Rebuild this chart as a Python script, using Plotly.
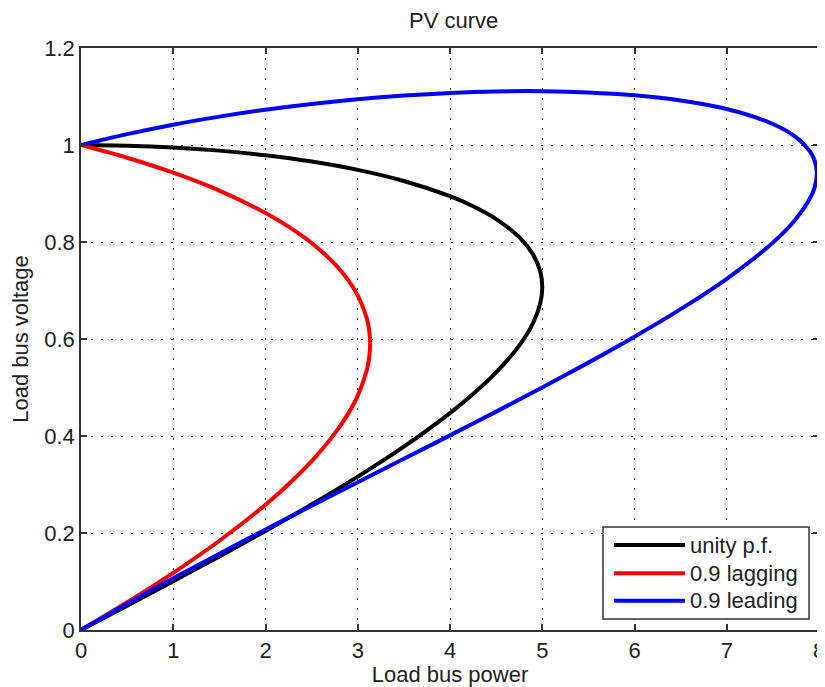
import plotly.graph_objects as go

# Data (load bus power P, load bus voltage V)
unity_p = [0, 0.5, 1, 1.5, 2, 2.5, 3, 3.5, 4, 4.25, 4.5, 4.75, 4.9, 4.98, 5.0,
           4.98, 4.9, 4.75, 4.5, 4.25, 4, 3.5, 3, 2.5, 2, 1.5, 1, 0.5, 0]
unity_v = [0, 0.0501, 0.1005, 0.1518, 0.2043, 0.2588, 0.3162, 0.3781, 0.4472, 0.4864,
           0.5311, 0.5864, 0.6329, 0.6748, 0.7071, 0.7380, 0.7743, 0.8100, 0.8473,
           0.8737, 0.8944, 0.9258, 0.9487, 0.9659, 0.9789, 0.9884, 0.9949, 0.9987, 1.0]

lag_p = [0, 0.5, 1, 1.5, 2, 2.25, 2.5, 2.75, 2.9, 3, 3.1, 3.125, 3.134,
         3.125, 3.1, 3, 2.9, 2.75, 2.5, 2.25, 2, 1.5, 1, 0.5, 0]
lag_v = [0, 0.0571, 0.1178, 0.1840, 0.2584, 0.3006, 0.3481, 0.4048, 0.4472, 0.4832,
         0.5372, 0.5631, 0.5901, 0.6166, 0.6412, 0.6899, 0.7205, 0.7548, 0.7979,
         0.8317, 0.8599, 0.9060, 0.9430, 0.9738, 1.0]

lead_p = [0, 0.5, 1, 1.5, 2, 2.5, 3, 3.5, 4, 4.5, 5, 5.5, 6, 6.5, 7, 7.5, 7.75, 7.9,
          7.95, 7.977, 7.95, 7.9, 7.75, 7.5, 7, 6.5, 6, 5.5, 5, 4.5, 4, 3.5, 3, 2.5,
          2, 1.5, 1, 0.5, 0]
lead_v = [0, 0.0543, 0.1066, 0.1574, 0.2072, 0.2561, 0.3046, 0.3529, 0.4013, 0.4503,
          0.5001, 0.5513, 0.6047, 0.6615, 0.7241, 0.7987, 0.8474, 0.8890, 0.9111,
          0.9415, 0.9695, 0.9874, 1.0162, 1.0433, 1.0741, 1.0918, 1.1025, 1.1085,
          1.1110, 1.1105, 1.1074, 1.1020, 1.0945, 1.0847, 1.0728, 1.0585, 1.0419,
          1.0225, 1.0]

series_names = ["unity p.f.", "0.9 lagging", "0.9 leading"]
series_colors = ["#000000", "#ff0000", "#0000ff"]
x_ticks = [0, 1, 2, 3, 4, 5, 6, 7, 8]
y_ticks = [0, 0.2, 0.4, 0.6, 0.8, 1.0, 1.2]

FONT = "Liberation Sans, Arial, Helvetica, sans-serif"
TXT = "#222222"
FS = 22

fig = go.Figure()
for (px, vy), name, col in zip([(unity_p, unity_v), (lag_p, lag_v), (lead_p, lead_v)],
                                series_names, series_colors):
    fig.add_trace(go.Scatter(x=px, y=vy, mode="lines", name=name,
                             line=dict(color=col, width=4, shape="spline", smoothing=0.8),
                             showlegend=False))

axis_common = dict(showline=True, linecolor="#333333", linewidth=1.5, mirror="ticks",
                   ticks="inside", ticklen=6, tickwidth=1.5, tickcolor="#333333",
                   showgrid=True, gridcolor="#333333", gridwidth=1.2,
                   griddash="2px,8px", zeroline=False, automargin=False,
                   ticklabeloverflow="allow",
                   tickfont=dict(family=FONT, size=FS, color=TXT))

fig.update_xaxes(range=[0, 8], tickvals=x_ticks, ticktext=[str(t) for t in x_ticks],
                 title=dict(text="Load bus power", font=dict(family=FONT, size=FS, color=TXT),
                            standoff=4),
                 **axis_common)
fig.update_yaxes(range=[0, 1.2], tickvals=y_ticks,
                 ticktext=["0", "0.2", "0.4", "0.6", "0.8", "1", "1.2"],
                 title=dict(text="Load bus voltage", font=dict(family=FONT, size=FS, color=TXT),
                            standoff=10),
                 **axis_common)

# Legend box drawn in paper coordinates
shapes = [dict(type="rect", xref="paper", yref="paper", x0=0.7073, x1=0.9865,
               y0=0.0189, y1=0.177, line=dict(color="#333333", width=1.5),
               fillcolor="white", layer="above")]
annotations = []
row_y = [0.146, 0.0974, 0.0503]
for name, col, ry in zip(series_names, series_colors, row_y):
    shapes.append(dict(type="line", xref="paper", yref="paper", x0=0.7222, x1=0.8184,
                       y0=ry, y1=ry, line=dict(color=col, width=4), layer="above"))
    annotations.append(dict(xref="paper", yref="paper", x=0.8225, y=ry, text=name,
                            showarrow=False, xanchor="left", yanchor="middle",
                            font=dict(family=FONT, size=FS, color=TXT)))

# The page body adds an 8px offset, so the figure is 8px smaller and margins compensate
fig.update_layout(
    width=817, height=679,
    margin=dict(l=73, r=6, t=40, b=57),
    paper_bgcolor="white", plot_bgcolor="white",
    title=dict(text="PV curve", x=0.5454, xanchor="center", y=0.9825, yanchor="middle",
               font=dict(family=FONT, size=FS, color=TXT)),
    shapes=shapes, annotations=annotations,
    showlegend=False,
)

fig.write_html("out.html")
